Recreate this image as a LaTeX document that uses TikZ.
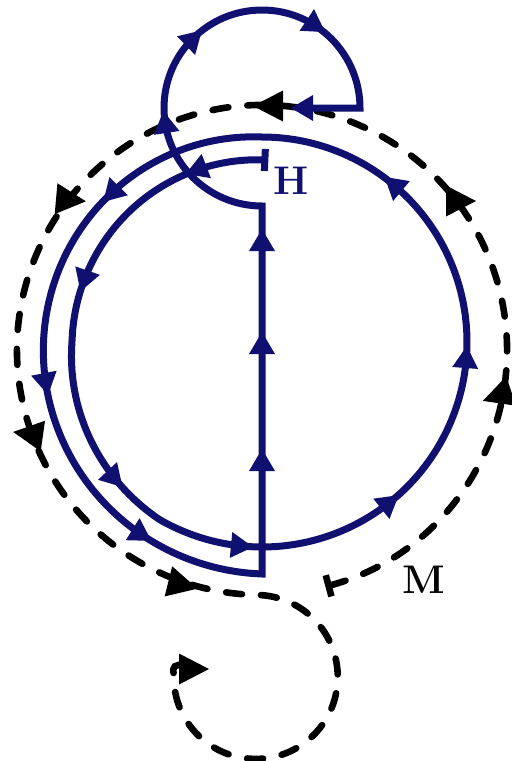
\documentclass[tikz,border=0pt]{standalone}
\usepackage{tikz}
\usetikzlibrary{arrows.meta}
\definecolor{navyline}{RGB}{16,16,112}

\tikzset{
	flow/.style={draw=navyline, line width=3.5pt, line join=miter},
	orbit/.style={draw=black, line width=3.3pt, dash pattern=on 8pt off 9.5pt, line cap=round},
	bluehead/.pic={\fill[navyline] (11,0) -- (-11,13) -- (-11,-13) -- cycle;},
	blackhead/.pic={\fill[black] (15,0) -- (-15,15.5) -- (-15,-15.5) -- cycle;},
	lab/.style={font=\fontsize{20}{22}\selectfont\bfseries, inner sep=0pt},
	declare function={rin(\t)=205-15*min(1,max(0,(\t+240)/60))-8*max(0,(\t+180)/92);
		rout(\t)=205+27*(-450-\t)/180;},
}

\begin{document}
\begin{tikzpicture}[x=0.5pt, y=-0.5pt]
				%\draw[color=gray,step=10, help lines,opacity=0.3] (0,0) grid (511,761); %help grids
				\useasboundingbox (0,0) rectangle (511,761);
				% dashed trajectory from M
				\draw[orbit, {Bar[width=11pt]}-] ([shift={(75:245)}]262,350) arc[start angle=75, end angle=-268.9, radius=245]
					arc[start angle=-88.9, end angle=182, radius=82] .. controls (172,667) and (175,663) .. (184,666);
				% solid trajectory from H
				\draw[flow, {Bar[width=11pt]}-] plot[smooth, domain=-88:-450, samples=120, variable=\t] ({262+rin(\t)*cos(\t)}, {342+rin(\t)*sin(\t)})
					-- plot[smooth, domain=-450:-630, samples=60, variable=\t] ({262+rout(\t)*cos(\t)}, {342+rout(\t)*sin(\t)})
					-- (262,206) arc[start angle=90, end angle=360, radius=98] -- (300,108);
				% heads on the solid line
				\pic[rotate=44] at (194,38) {bluehead};
				\pic[rotate=-33.5] at (316,26) {bluehead};
				\pic[rotate=98.5] at (165,122) {bluehead};
				\pic[rotate=180] at (302,108) {bluehead};
				\pic[rotate=90] at (262,240) {bluehead};
				\pic[rotate=90] at (262,343) {bluehead};
				\pic[rotate=90] at (262,460) {bluehead};
				\pic[rotate=201] at (196,170) {bluehead};
				\pic[rotate=251] at (84,281) {bluehead};
				\pic[rotate=-47] at (115,479) {bluehead};
				\pic[rotate=-5.5] at (242,546) {bluehead};
				\pic[rotate=38.5] at (390,502) {bluehead};
				\pic[rotate=85.7] at (466,357) {bluehead};
				\pic[rotate=140] at (393,184) {bluehead};
				\pic[rotate=225.6] at (111,194) {bluehead};
				\pic[rotate=281] at (46,384) {bluehead};
				\pic[rotate=-32] at (142,535) {bluehead};
				% heads on the dashed line
				\pic[rotate=180] at (268,106) {blackhead};
				\pic[rotate=-5] at (71,200) {blackhead};
				\pic[rotate=172] at (28,434) {blackhead};
				\pic[rotate=-14] at (183,585) {blackhead};
				\pic at (194,669) {blackhead};
				\pic at (461,201) {blackhead};
				\pic[rotate=199] at (497,396) {blackhead};
				% labels
				\node[lab, text=navyline] (hlab) at (291,181) {H};
				\node[lab] (mlab) at (424,580) {M};
\end{tikzpicture}
\end{document}
